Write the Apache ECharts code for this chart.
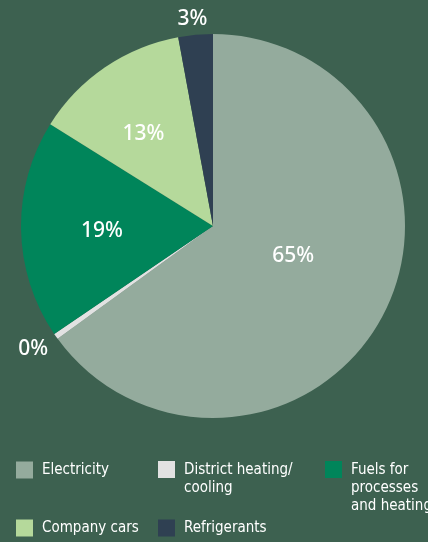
<!DOCTYPE html>
<html>
<head>
<meta charset="utf-8">
<script src="https://cdn.jsdelivr.net/npm/echarts@6/dist/echarts.min.js"></script>
<style>
  html, body { margin: 0; padding: 0; background: #3d6150; }
  #chart { width: 428px; height: 542px; }
</style>
</head>
<body>
<div id="chart"></div>
<script>
// Emissions share by source
const categories = ['Electricity', 'District heating/\ncooling', 'Fuels for\nprocesses\nand heating', 'Company cars', 'Refrigerants'];
const values = [65, 0.5, 18.4, 13.2, 2.9];
const labels = ['65%', '0%', '19%', '13%', '3%'];
const colors = ['#94ab9d', '#e2e2e2', '#00855a', '#b5d99b', '#2f4052'];

// label nudges (px) and which slices carry their label outside
const labelOffsets = [[-8, -15], [7, 6], [-12, 3], [-14, -10], [18, -4]];
const outsideIdx = [1, 4];

const data = categories.map((name, i) => {
  const item = {
    name: name,
    value: values[i],
    itemStyle: { color: colors[i] },
    label: { formatter: labels[i], offset: labelOffsets[i] }
  };
  if (outsideIdx.includes(i)) {
    item.label.position = 'outside';
    item.labelLine = { show: false, length: 12, length2: 0 };
  }
  return item;
});

const FONT = '"DejaVu Sans Condensed", "Liberation Sans", sans-serif';
const LINE_H = 18;

// swatch pinned to the first text line: the square occupies the top of the
// icon box and a vanishing dot stretches the box to the full text height
function swatch(lines) {
  const h = lines * LINE_H;
  if (lines === 1) return 'rect';
  return 'path://M0,0 h17 v17 h-17 Z M0,' + (h - 0.01) + ' h0.01 v0.01 h-0.01 Z';
}

// one legend per item so the columns sit on a fixed grid
const legendPos = [
  { left: 16, top: 461 },
  { left: 158, top: 461 },
  { left: 325, top: 461 },
  { left: 16, top: 519 },
  { left: 158, top: 519 }
];
const legends = categories.map((name, i) => {
  const lines = name.split('\n').length;
  return {
    data: [{ name: name, icon: swatch(lines) }],
    left: legendPos[i].left,
    top: legendPos[i].top,
    orient: 'vertical',
    selectedMode: false,
    itemWidth: 17,
    itemHeight: lines === 1 ? 17 : lines * LINE_H,
    itemGap: 0,
    padding: 0,
    textStyle: {
      color: '#ffffff',
      fontFamily: FONT,
      fontSize: 15,
      lineHeight: LINE_H,
      padding: [0, 0, 0, 4]
    }
  };
});

const chart = echarts.init(document.getElementById('chart'), null, { renderer: 'canvas' });
chart.setOption({
  backgroundColor: '#3d6150',
  animation: false,
  legend: legends,
  series: [{
    type: 'pie',
    center: [213, 226],
    radius: [0, 192],
    startAngle: 90,
    clockwise: true,
    avoidLabelOverlap: false,
    itemStyle: { borderWidth: 0 },
    label: {
      show: true,
      position: 'inside',
      color: '#ffffff',
      fontFamily: '"Noto Sans", sans-serif',
      fontWeight: 500,
      fontSize: 21
    },
    labelLine: { show: false },
    data: data
  }]
});
</script>
</body>
</html>
